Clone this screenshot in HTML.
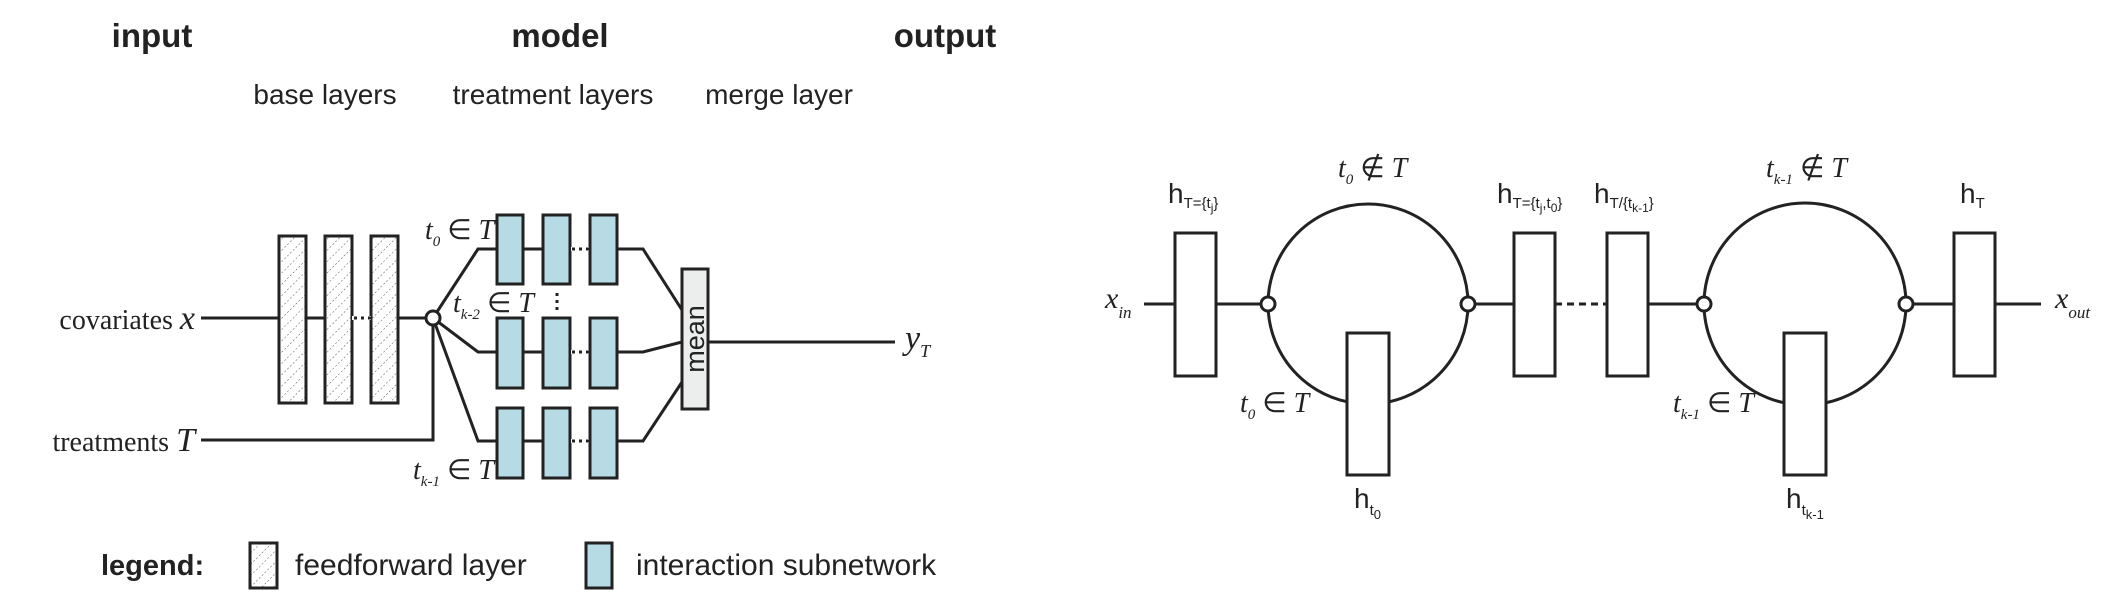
<!DOCTYPE html>
<html><head><meta charset="utf-8"><style>
html,body{margin:0;padding:0;background:#fff;}
svg{display:block;}
.sb{font-family:"Liberation Sans",sans-serif;font-weight:bold;font-size:33px;fill:#222;}
.s{font-family:"Liberation Sans",sans-serif;font-size:28px;fill:#222;}
.se{font-family:"Liberation Serif",serif;font-size:28px;fill:#222;}
.si{font-family:"Liberation Serif",serif;font-style:italic;fill:#222;}
</style></head><body>
<svg width="2122" height="606" viewBox="0 0 2122 606" xmlns="http://www.w3.org/2000/svg">
<defs>
<pattern id="hatch" width="8" height="8" patternUnits="userSpaceOnUse" patternTransform="rotate(45)">
<rect width="8" height="8" fill="#fff"/>
<line x1="0" y1="0" x2="0" y2="8" stroke="#555" stroke-width="1" stroke-dasharray="2,2"/>
</pattern>
</defs>
<!-- headers -->
<text class="sb" x="152" y="47" text-anchor="middle">input</text>
<text class="sb" x="560" y="47" text-anchor="middle">model</text>
<text class="sb" x="945" y="47" text-anchor="middle">output</text>
<text class="s" x="325" y="104" text-anchor="middle">base layers</text>
<text class="s" x="553" y="104" text-anchor="middle">treatment layers</text>
<text class="s" x="779" y="104" text-anchor="middle">merge layer</text>

<g stroke="#222" stroke-width="3" fill="none">
<!-- covariates line -->
<line x1="201" y1="318" x2="427" y2="318"/>
<line x1="305" y1="318" x2="325" y2="318" stroke-dasharray="0"/>
<!-- treatments -->
<polyline points="201,440 433,440 433,325"/>
<!-- branches -->
<polyline points="433,318 478,249 623,249 643,249 682,310"/>
<polyline points="433,318 478,352 623,352 643,352 682,342"/>
<polyline points="433,318 478,441 623,441 643,441 682,382"/>
<line x1="708" y1="342" x2="895" y2="342"/>
</g>
<!-- feedforward boxes -->
<g stroke="#222" stroke-width="3" fill="url(#hatch)">
<rect x="279" y="236" width="27" height="167"/>
<rect x="325" y="236" width="27" height="167"/>
<rect x="371" y="236" width="27" height="167"/>
</g>
<line x1="352" y1="318" x2="371" y2="318" stroke="#fff" stroke-width="4"/>
<line x1="354" y1="318" x2="371" y2="318" stroke="#222" stroke-width="3" stroke-dasharray="3,4"/>
<circle cx="433" cy="318" r="7" fill="#fff" stroke="#222" stroke-width="3"/>
<!-- blue boxes -->
<g stroke="#222" stroke-width="3" fill="#b7dbe4">
<rect x="497" y="215" width="26" height="69"/><rect x="543" y="215" width="27" height="69"/><rect x="590" y="215" width="27" height="69"/>
<rect x="497" y="318" width="26" height="70"/><rect x="543" y="318" width="27" height="70"/><rect x="590" y="318" width="27" height="70"/>
<rect x="497" y="408" width="26" height="70"/><rect x="543" y="408" width="27" height="70"/><rect x="590" y="408" width="27" height="70"/>
</g>
<g stroke="#fff" stroke-width="4">
<line x1="571" y1="249" x2="589" y2="249"/><line x1="571" y1="352" x2="589" y2="352"/><line x1="571" y1="441" x2="589" y2="441"/>
</g>
<g stroke="#222" stroke-width="3" stroke-dasharray="3,4">
<line x1="572" y1="249" x2="590" y2="249"/><line x1="572" y1="352" x2="590" y2="352"/><line x1="572" y1="441" x2="590" y2="441"/>
<line x1="557" y1="293" x2="557" y2="313"/>
</g>
<rect x="682" y="269" width="26" height="140" fill="#eceeee" stroke="#222" stroke-width="3"/>
<text class="s" transform="translate(704,339) rotate(-90)" text-anchor="middle" style="font-size:27px">mean</text>
<!-- labels left -->
<text class="si" x="425" y="239" style="font-size:28px">t<tspan dy="7" font-size="15">0</tspan><tspan dy="-7" font-style="normal"> ∈ </tspan>T</text>
<text class="si" x="453" y="312" style="font-size:28px">t<tspan dy="7" font-size="15">k-2</tspan><tspan dy="-7" font-style="normal"> ∈ </tspan>T</text>
<text class="si" x="413" y="479" style="font-size:28px">t<tspan dy="7" font-size="15">k-1</tspan><tspan dy="-7" font-style="normal"> ∈ </tspan>T</text>
<text class="se" x="195" y="329" text-anchor="end">covariates <tspan class="si" font-size="34">x</tspan></text>
<text class="se" x="195" y="451" text-anchor="end">treatments <tspan class="si" font-size="34">T</tspan></text>
<text class="si" x="905" y="349" style="font-size:34px">y<tspan dy="8" font-size="18">T</tspan></text>
<!-- legend -->
<text class="sb" x="101" y="575" style="font-size:29px">legend:</text>
<rect x="250" y="543" width="27" height="45" fill="url(#hatch)" stroke="#222" stroke-width="3"/>
<text class="s" x="295" y="575" style="font-size:30px">feedforward layer</text>
<rect x="586" y="543" width="26" height="45" fill="#b7dbe4" stroke="#222" stroke-width="3"/>
<text class="s" x="636" y="575" style="font-size:30px">interaction subnetwork</text>

<!-- RIGHT PANEL -->
<g stroke="#222" stroke-width="3" fill="none">
<line x1="1144" y1="304" x2="1262" y2="304"/>
<line x1="1473" y1="304" x2="1514" y2="304"/>
<line x1="1555" y1="304" x2="1607" y2="304" stroke-dasharray="7,5"/>
<line x1="1648" y1="304" x2="1698" y2="304"/>
<line x1="1912" y1="304" x2="2041" y2="304"/>
<circle cx="1368" cy="304" r="100"/>
<circle cx="1805" cy="304" r="101"/>
</g>
<g stroke="#222" stroke-width="3" fill="#fff">
<rect x="1175" y="233" width="41" height="143"/>
<rect x="1347" y="333" width="42" height="142"/>
<rect x="1514" y="233" width="41" height="143"/>
<rect x="1607" y="233" width="41" height="143"/>
<rect x="1784" y="333" width="42" height="142"/>
<rect x="1954" y="233" width="41" height="143"/>
<circle cx="1268" cy="304" r="7"/><circle cx="1468" cy="304" r="7"/>
<circle cx="1704" cy="304" r="7"/><circle cx="1906" cy="304" r="7"/>
</g>
<text class="si" x="1105" y="308" style="font-size:30px">x<tspan dy="10" font-size="17">in</tspan></text>
<text class="si" x="2055" y="308" style="font-size:30px">x<tspan dy="10" font-size="17">out</tspan></text>
<text class="si" x="1338" y="177" style="font-size:28px">t<tspan dy="7" font-size="15">0</tspan><tspan dy="-7" font-style="normal"> ∉ </tspan>T</text>
<text class="si" x="1766" y="177" style="font-size:28px">t<tspan dy="7" font-size="15">k-1</tspan><tspan dy="-7" font-style="normal"> ∉ </tspan>T</text>
<text class="si" x="1240" y="412" style="font-size:28px">t<tspan dy="7" font-size="15">0</tspan><tspan dy="-7" font-style="normal"> ∈ </tspan>T</text>
<text class="si" x="1673" y="412" style="font-size:28px">t<tspan dy="7" font-size="15">k-1</tspan><tspan dy="-7" font-style="normal"> ∈ </tspan>T</text>
<text class="s" x="1168" y="203">h<tspan dy="5" font-size="15">T={t</tspan><tspan dy="4" font-size="12">j</tspan><tspan dy="-4" font-size="15">}</tspan></text>
<text class="s" x="1497" y="203">h<tspan dy="5" font-size="15">T={t</tspan><tspan dy="4" font-size="12">j</tspan><tspan dy="-4" font-size="15">,t</tspan><tspan dy="4" font-size="12">0</tspan><tspan dy="-4" font-size="15">}</tspan></text>
<text class="s" x="1594" y="203">h<tspan dy="5" font-size="15">T/{t</tspan><tspan dy="4" font-size="12">k-1</tspan><tspan dy="-4" font-size="15">}</tspan></text>
<text class="s" x="1960" y="203">h<tspan dy="5" font-size="15">T</tspan></text>
<text class="s" x="1354" y="508">h<tspan dy="7" font-size="15">t</tspan><tspan dy="4" font-size="13">0</tspan></text>
<text class="s" x="1786" y="508">h<tspan dy="7" font-size="15">t</tspan><tspan dy="4" font-size="13">k-1</tspan></text>
</svg>
</body></html>
